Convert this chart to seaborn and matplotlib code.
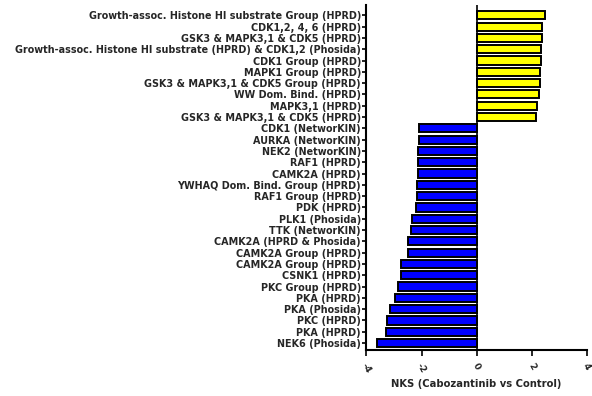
import matplotlib
matplotlib.use("Agg")
import matplotlib.pyplot as plt
import seaborn as sns
import pandas as pd

# Kinase substrate sets, top to bottom
labels = [
    "Growth-assoc. Histone HI substrate Group (HPRD)",
    "CDK1,2, 4, 6 (HPRD)",
    "GSK3 & MAPK3,1 & CDK5 (HPRD)",
    "Growth-assoc. Histone HI substrate (HPRD) & CDK1,2 (Phosida)",
    "CDK1 Group (HPRD)",
    "MAPK1 Group (HPRD)",
    "GSK3 & MAPK3,1 & CDK5 Group (HPRD)",
    "WW Dom. Bind. (HPRD)",
    "MAPK3,1 (HPRD)",
    "GSK3 & MAPK3,1 & CDK5 (HPRD) ",
    "CDK1 (NetworKIN)",
    "AURKA (NetworKIN)",
    "NEK2 (NetworKIN)",
    "RAF1 (HPRD)",
    "CAMK2A (HPRD)",
    "YWHAQ Dom. Bind. Group (HPRD)",
    "RAF1 Group (HPRD)",
    "PDK (HPRD)",
    "PLK1 (Phosida)",
    "TTK (NetworKIN)",
    "CAMK2A (HPRD & Phosida)",
    "CAMK2A Group (HPRD)",
    "CAMK2A Group (HPRD) ",
    "CSNK1 (HPRD)",
    "PKC Group (HPRD)",
    "PKA (HPRD)",
    "PKA (Phosida)",
    "PKC (HPRD)",
    "PKA (HPRD) ",
    "NEK6 (Phosida)",
]

# Normalized kinase scores (Cabozantinib vs Control)
nks = [
    2.50, 2.39, 2.37, 2.33, 2.33, 2.31, 2.31, 2.27, 2.20, 2.15,
    -2.08, -2.09, -2.13, -2.14, -2.14, -2.15, -2.18, -2.21, -2.33, -2.39,
    -2.48, -2.49, -2.73, -2.76, -2.86, -2.95, -3.13, -3.24, -3.28, -3.61,
]

x_ticks = [-4, -2, 0, 2, 4]

df = pd.DataFrame({"label": labels, "nks": nks})
df["dir"] = ["up" if v > 0 else "down" for v in nks]

sns.set_style("white")
plt.rcParams["font.family"] = ["DejaVu Sans"]

fig = plt.figure(figsize=(5.92, 3.96), dpi=100)
ax = fig.add_axes([0.619, 0.116, 0.372, 0.871])

sns.barplot(
    data=df, x="nks", y="label", hue="dir", orient="h",
    palette={"up": "#FFFF00", "down": "#0000FF"}, saturation=1,
    edgecolor="black", linewidth=1.4, width=0.72,
    dodge=False, legend=False, ax=ax,
)

ax.axvline(0, color="black", lw=1.2, zorder=0)
ax.set_xlim(-4, 4)
ax.set_ylim(29.62, -0.9)
ax.set_xticks(x_ticks)
ax.set_xticklabels([str(t) for t in x_ticks], rotation=-60,
                   fontsize=6.5, fontweight="bold", ha="center", va="top")
ax.set_yticks(range(len(labels)))
ax.set_yticklabels([l.strip() for l in labels], fontsize=6.9, fontweight="bold")
ax.set_ylabel("")
ax.set_xlabel("NKS (Cabozantinib vs Control)", fontsize=7.2, fontweight="bold", labelpad=3)

for s in ["top", "right"]:
    ax.spines[s].set_visible(False)
for s in ["left", "bottom"]:
    ax.spines[s].set_color("black")
    ax.spines[s].set_linewidth(1.5)
ax.tick_params(axis="y", left=True, length=3, width=1.2, pad=1, color="black")
ax.tick_params(axis="x", bottom=True, length=4, width=1.2, pad=4, color="black")

fig.savefig("out.png", dpi=100)
